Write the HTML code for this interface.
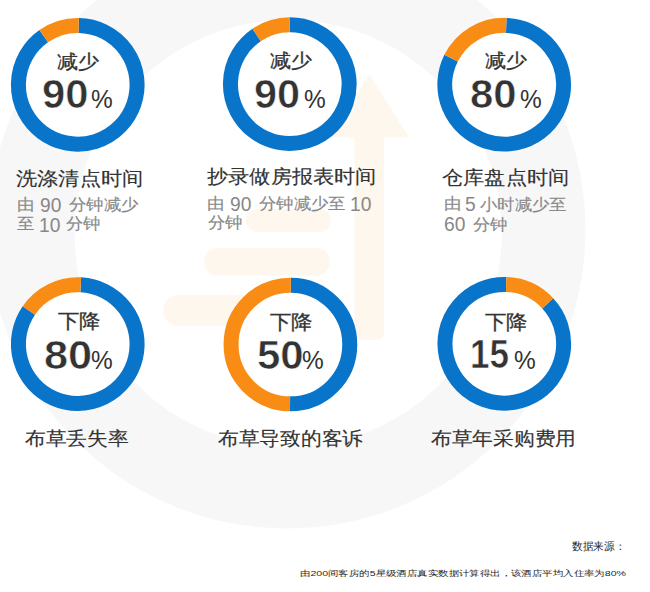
<!DOCTYPE html>
<html><head><meta charset="utf-8"><style>
html,body{margin:0;padding:0;background:#fff;}
body{width:650px;height:592px;position:relative;overflow:hidden;font-family:"Liberation Sans",sans-serif;}
svg{position:absolute;left:0;top:0;}
.t{position:absolute;white-space:nowrap;line-height:1;transform-origin:0 0;}
.b{font-weight:bold;-webkit-text-stroke:0.6px #fff;}
.l{-webkit-text-stroke:0.3px currentColor;}
.c{-webkit-text-stroke:0.15px currentColor;}
</style></head><body>
<svg width="650" height="592" viewBox="0 0 650 592">
<path fill="#f7f7f7" fill-rule="evenodd" d="M-11.50 230.00a298.5 298.5 0 1 0 597.00 0a298.5 298.5 0 1 0 -597.00 0ZM74.60 233.60a213.6 213.6 0 1 0 427.20 0a213.6 213.6 0 1 0 -427.20 0Z"/>
<g fill="#fef7ee"><path d="M369.5 74.5L409 137.5H384L384 332Q384 340 376 340H362Q354.5 340 354.5 332V137.5H330Z"/><rect x="246" y="209" width="85" height="23" rx="11.5"/><rect x="204" y="248" width="126" height="27.5" rx="13.75"/><rect x="163" y="295" width="167" height="31" rx="15.5"/></g>
<circle cx="77.75" cy="84.8" r="59.35" fill="#fff"/>
<path d="M78.68 25.46A59.35 59.35 0 1 1 43.71 36.18" fill="none" stroke="#0875ca" stroke-width="15.0"/>
<path d="M43.71 36.18A59.35 59.35 0 0 1 78.68 25.46" fill="none" stroke="#f98c15" stroke-width="15.0"/>
<circle cx="289.8" cy="84.15" r="59.35" fill="#fff"/>
<path d="M289.59 24.80A59.35 59.35 0 1 1 256.61 34.95" fill="none" stroke="#0875ca" stroke-width="15.0"/>
<path d="M256.61 34.95A59.35 59.35 0 0 1 289.59 24.80" fill="none" stroke="#f98c15" stroke-width="15.0"/>
<circle cx="504.2" cy="84.7" r="59.35" fill="#fff"/>
<path d="M506.27 25.39A59.35 59.35 0 1 1 451.09 58.22" fill="none" stroke="#0875ca" stroke-width="15.0"/>
<path d="M451.09 58.22A59.35 59.35 0 0 1 506.27 25.39" fill="none" stroke="#f98c15" stroke-width="15.0"/>
<circle cx="77.75" cy="344.1" r="59.35" fill="#fff"/>
<path d="M80.75 284.83A59.35 59.35 0 1 1 28.84 310.48" fill="none" stroke="#0875ca" stroke-width="15.0"/>
<path d="M28.84 310.48A59.35 59.35 0 0 1 80.75 284.83" fill="none" stroke="#f98c15" stroke-width="15.0"/>
<circle cx="290.05" cy="344.5" r="59.35" fill="#fff"/>
<path d="M290.78 285.15A59.35 59.35 0 0 1 290.05 403.85" fill="none" stroke="#0875ca" stroke-width="15.0"/>
<path d="M290.05 403.85A59.35 59.35 0 1 1 290.78 285.15" fill="none" stroke="#f98c15" stroke-width="15.0"/>
<circle cx="504.3" cy="343.8" r="59.35" fill="#fff"/>
<path d="M547.71 303.32A59.35 59.35 0 1 1 506.16 284.48" fill="none" stroke="#0875ca" stroke-width="15.0"/>
<path d="M506.16 284.48A59.35 59.35 0 0 1 547.71 303.32" fill="none" stroke="#f98c15" stroke-width="15.0"/>
</svg>
<div class="t l" style="left:57.28px;top:52.66px;font-size:18.84px;color:#333333;transform:scale(1.1084,1);">减少</div>
<div class="t l" style="left:270.06px;top:52.02px;font-size:18.84px;color:#333333;transform:scale(1.1084,1);">减少</div>
<div class="t l" style="left:485.06px;top:52.02px;font-size:18.84px;color:#333333;transform:scale(1.1084,1);">减少</div>
<div class="t b" style="left:41.63px;top:73.70px;font-size:41.41px;color:#333333;transform:scale(1.0095,1);">90</div>
<div class="t b" style="left:253.57px;top:73.70px;font-size:41.41px;color:#333333;transform:scale(1.0016,1);">90</div>
<div class="t b" style="left:470.01px;top:73.70px;font-size:41.41px;color:#333333;transform:scale(1.0121,1);">80</div>
<div class="t" style="left:91.29px;top:86.31px;font-size:26.54px;color:#333333;transform:scale(0.9212,1);">%</div>
<div class="t" style="left:304.36px;top:86.31px;font-size:26.54px;color:#333333;transform:scale(0.9212,1);">%</div>
<div class="t" style="left:520.08px;top:86.30px;font-size:26.54px;color:#333333;transform:scale(0.9212,1);">%</div>
<div class="t l" style="left:57.53px;top:312.13px;font-size:19.57px;color:#333333;transform:scale(1.0700,1);">下降</div>
<div class="t l" style="left:269.53px;top:312.66px;font-size:19.57px;color:#333333;transform:scale(1.0700,1);">下降</div>
<div class="t l" style="left:484.53px;top:312.66px;font-size:19.57px;color:#333333;transform:scale(1.0700,1);">下降</div>
<div class="t b" style="left:44.20px;top:334.69px;font-size:41.41px;color:#333333;transform:scale(1.0474,1);">80</div>
<div class="t b" style="left:257.14px;top:334.76px;font-size:41.41px;color:#333333;transform:scale(1.0137,1);">50</div>
<div class="t b" style="left:470.42px;top:334.28px;font-size:41.41px;color:#333333;transform:scale(0.8459,1);">15</div>
<div class="t" style="left:90.73px;top:346.85px;font-size:26.54px;color:#333333;transform:scale(0.9212,1);">%</div>
<div class="t" style="left:302.45px;top:346.81px;font-size:26.54px;color:#333333;transform:scale(0.9212,1);">%</div>
<div class="t" style="left:513.66px;top:346.86px;font-size:26.54px;color:#333333;transform:scale(0.9212,1);">%</div>
<div class="t c" style="left:15.58px;top:169.32px;font-size:19.08px;color:#333333;transform:scale(1.1163,1);">洗涤清点时间</div>
<div class="t c" style="left:207.07px;top:167.14px;font-size:19.08px;color:#333333;transform:scale(1.1163,1);">抄录做房报表时间</div>
<div class="t c" style="left:442.10px;top:167.57px;font-size:19.08px;color:#333333;transform:scale(1.1163,1);">仓库盘点时间</div>
<div class="t c" style="left:16.72px;top:197.01px;font-size:15.70px;color:#888888;transform:scale(1.0848,1);">由</div>
<div class="t" style="left:39.53px;top:194.50px;font-size:20.36px;color:#888888;transform:scale(0.9432,1);">90</div>
<div class="t c" style="left:68.64px;top:197.07px;font-size:15.70px;color:#888888;transform:scale(1.0848,1);">分钟减少</div>
<div class="t c" style="left:17.00px;top:216.35px;font-size:15.70px;color:#888888;transform:scale(1.0848,1);">至</div>
<div class="t" style="left:39.10px;top:214.51px;font-size:20.36px;color:#888888;transform:scale(0.9432,1);">10</div>
<div class="t c" style="left:66.33px;top:215.84px;font-size:15.70px;color:#888888;transform:scale(1.0848,1);">分钟</div>
<div class="t c" style="left:207.32px;top:195.60px;font-size:15.70px;color:#888888;transform:scale(1.0848,1);">由</div>
<div class="t" style="left:230.20px;top:193.51px;font-size:20.36px;color:#888888;transform:scale(0.9432,1);">90</div>
<div class="t c" style="left:259.45px;top:195.82px;font-size:15.70px;color:#888888;transform:scale(1.0848,1);">分钟减少至</div>
<div class="t" style="left:350.49px;top:193.64px;font-size:20.36px;color:#888888;transform:scale(0.9432,1);">10</div>
<div class="t c" style="left:207.86px;top:215.26px;font-size:15.70px;color:#888888;transform:scale(1.0848,1);">分钟</div>
<div class="t c" style="left:444.32px;top:196.26px;font-size:15.70px;color:#888888;transform:scale(1.0848,1);">由</div>
<div class="t" style="left:465.47px;top:194.48px;font-size:20.36px;color:#888888;transform:scale(0.9432,1);">5</div>
<div class="t c" style="left:479.54px;top:196.52px;font-size:15.70px;color:#888888;transform:scale(1.0848,1);">小时减少至</div>
<div class="t" style="left:444.21px;top:214.44px;font-size:20.36px;color:#888888;transform:scale(0.9432,1);">60</div>
<div class="t c" style="left:472.61px;top:216.75px;font-size:15.70px;color:#888888;transform:scale(1.0848,1);">分钟</div>
<div class="t c" style="left:24.69px;top:428.84px;font-size:19.38px;color:#333333;transform:scale(1.0914,1);">布草丢失率</div>
<div class="t c" style="left:217.78px;top:428.99px;font-size:19.38px;color:#333333;transform:scale(1.0914,1);">布草导致的客诉</div>
<div class="t c" style="left:430.71px;top:429.23px;font-size:19.38px;color:#333333;transform:scale(1.0914,1);">布草年采购费用</div>
<div class="t" style="left:571.84px;top:541.24px;font-size:10.74px;color:#1e1e1e;transform:scale(0.9674,1);">数据来源：</div>
<div class="t" style="left:300.31px;top:570.34px;font-size:8.11px;color:#1e1e1e;transform:scale(1.3026,1);">由200间客房的5星级酒店真实数据计算得出，该酒店平均入住率为80%</div>
</body></html>
